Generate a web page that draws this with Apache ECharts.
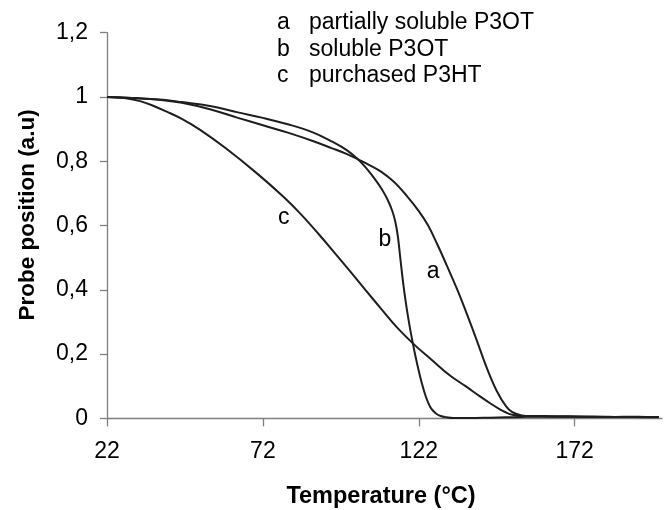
<!DOCTYPE html>
<html><head><meta charset="utf-8">
<script src="https://cdn.jsdelivr.net/npm/echarts@6/dist/echarts.min.js"></script>
<style>html,body{margin:0;padding:0;background:#fff}#c{width:666px;height:510px}</style>
</head><body><div id="c"></div>
<script>
// Tick values
const xTicks = [22, 72, 122, 172];
const yTicks = [0, 0.2, 0.4, 0.6, 0.8, 1.0, 1.2];

// Curve a: partially soluble P3OT  [temperature, probe position]
const curveA = [
  [22,1.0],[30,0.997],[40,0.990],[46,0.982],[55,0.962],[64,0.935],[72,0.912],[80,0.889],
  [88,0.863],[94,0.841],[99,0.822],[102.5,0.806],[106,0.789],[110,0.767],[114,0.736],
  [118,0.694],[122,0.645],[125,0.600],[128,0.540],[131,0.475],[135,0.385],[140,0.258],
  [144,0.152],[147,0.085],[150,0.037],[152,0.019],[155,0.009],[158,0.007],[162,0.007],
  [166,0.006],[170,0.006],[175,0.005],[180,0.005],[185,0.004],[190,0.005],[195,0.004],[199,0.004]
];
// Curve b: soluble P3OT
const curveB = [
  [22,1.0],[30,0.997],[40,0.991],[46,0.984],[55,0.972],[64,0.952],[72,0.935],[80,0.915],
  [88,0.890],[94,0.862],[99,0.834],[102.5,0.806],[105,0.780],[107.5,0.750],[110,0.715],
  [112,0.680],[113.5,0.645],[114.5,0.610],[115.3,0.565],[116,0.505],[117,0.420],[118,0.350],
  [119,0.290],[120,0.238],[121,0.190],[122,0.147],[123,0.108],[124,0.075],[125,0.049],
  [126,0.030],[127.5,0.015],[129,0.007],[131,0.003],[133,0.001],[138,0.001],[145,0.002],
  [150,0.003],[155,0.004],[160,0.005],[170,0.005],[180,0.004],[190,0.004],[199,0.004]
];
// Curve c: purchased P3HT
const curveC = [
  [22,1.0],[28,0.996],[32.6,0.987],[37,0.972],[41,0.955],[46,0.932],[52,0.897],[60,0.841],
  [70,0.763],[78.5,0.690],[84,0.637],[90,0.572],[95,0.515],[100,0.457],[105,0.398],
  [110,0.340],[115,0.283],[120.8,0.227],[126,0.183],[132,0.133],[137,0.100],[141.5,0.069],
  [145,0.046],[148,0.028],[150,0.018],[152,0.011],[155,0.007],[162,0.006],
  [168,0.005],[175,0.005],[182,0.004],[190,0.004],[199,0.003]
];

// Legend text and curve labels
const legendKeys = ['a', 'b', 'c'];
const legendNames = ['partially soluble P3OT', 'soluble P3OT', 'purchased P3HT'];
const labelCoords = [[126.6, 0.456], [111.1, 0.555], [78.7, 0.623]];
const curves = [curveA, curveB, curveC];

const FONT = 'Liberation Sans, Arial, sans-serif';
const chart = echarts.init(document.getElementById('c'));

const series = curves.map((d, i) => ({
  type: 'line',
  name: legendNames[i],
  data: d,
  showSymbol: false,
  smooth: 0.4,
  lineStyle: { color: '#1e1e1e', width: 2 },
  z: 3,
  markPoint: {
    symbol: 'circle',
    symbolSize: 1,
    itemStyle: { color: 'rgba(0,0,0,0)' },
    label: { show: true, position: 'inside', formatter: legendKeys[i], fontFamily: FONT, fontSize: 23, color: '#000' },
    data: [{ coord: labelCoords[i] }]
  }
}));

const legendGraphics = [];
const rowsY = [22.5, 49.5, 76];
legendKeys.forEach((k, i) => {
  legendGraphics.push({ type: 'text', x: 277, y: rowsY[i],
    style: { text: k, font: '23px ' + FONT, fill: '#000', verticalAlign: 'middle' } });
  legendGraphics.push({ type: 'text', x: 309, y: rowsY[i],
    style: { text: legendNames[i], font: '23px ' + FONT, fill: '#000', verticalAlign: 'middle' } });
});

chart.setOption({
  animation: false,
  backgroundColor: '#fff',
  grid: { left: 107, right: 4, top: 32.7, bottom: 91.7 },
  xAxis: {
    type: 'value', min: 22, max: 200,
    axisLine: { lineStyle: { color: '#808080', width: 1.3 } },
    axisTick: { customValues: xTicks, length: 8, lineStyle: { color: '#808080', width: 1.3 } },
    axisLabel: { customValues: xTicks, margin: 22, fontFamily: FONT, fontSize: 23, color: '#000' },
    splitLine: { show: false }
  },
  yAxis: {
    type: 'value', min: 0, max: 1.2, interval: 0.2,
    axisLine: { show: true, lineStyle: { color: '#808080', width: 1.3 } },
    axisTick: { show: true, length: 7, lineStyle: { color: '#808080', width: 1.3 } },
    axisLabel: { margin: 19, fontFamily: FONT, fontSize: 23, color: '#000',
      formatter: v => String(Math.round(v * 10) / 10).replace('.', ',') },
    splitLine: { show: false }
  },
  graphic: [
    { type: 'text', x: 27.5, y: 215, rotation: Math.PI / 2,
      style: { text: 'Probe position (a.u)', font: 'bold 22.5px ' + FONT, fill: '#000', align: 'center', verticalAlign: 'middle' } },
    { type: 'text', x: 381, y: 497,
      style: { text: 'Temperature (°C)', font: 'bold 23.5px ' + FONT, fill: '#000', align: 'center', verticalAlign: 'middle' } }
  ].concat(legendGraphics),
  series: series
});
</script>
</body></html>
